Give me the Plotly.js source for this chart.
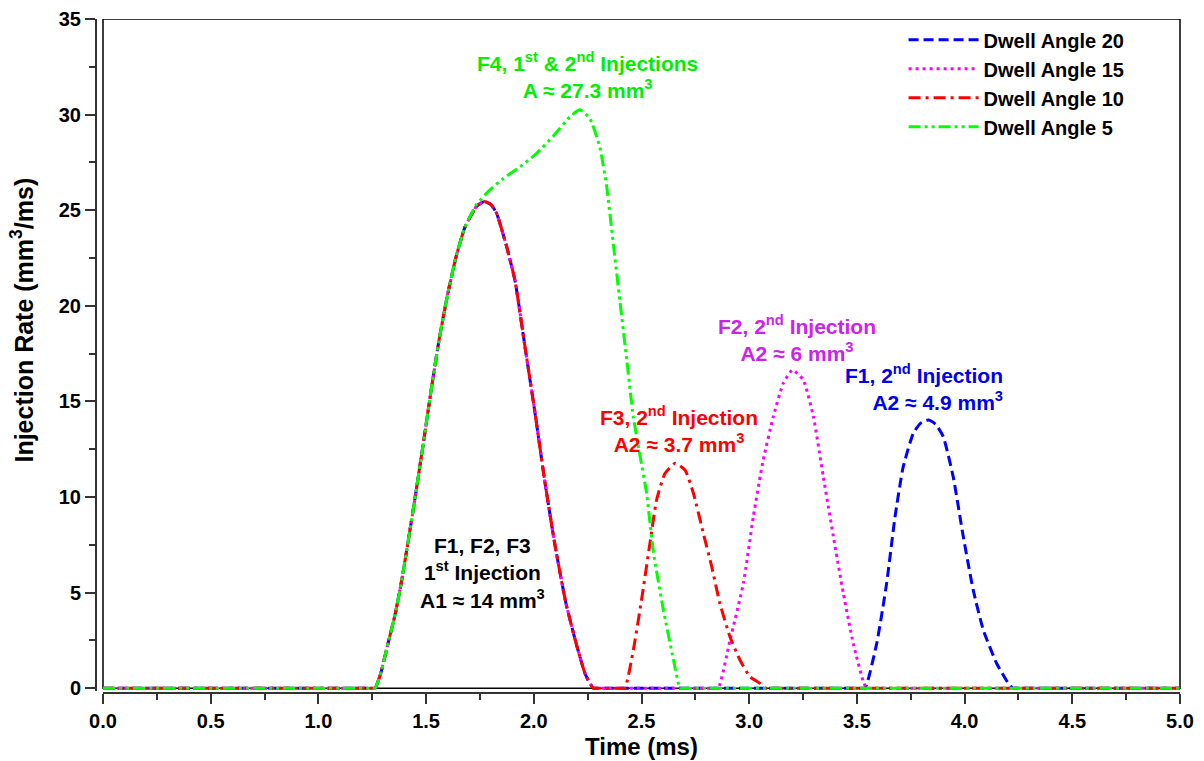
<!DOCTYPE html>
<html>
<head>
<meta charset="utf-8">
<script src="https://cdn.plot.ly/plotly-3.0.1.min.js"></script>
<style>html,body{margin:0;padding:0;background:#fff;}#chart{width:1204px;height:761px;}</style>
</head>
<body>
<div id="chart"></div>
<script>
// ---- Data ----
const seriesNames = ["Dwell Angle 20", "Dwell Angle 15", "Dwell Angle 10", "Dwell Angle 5"];

// Common first injection (F1, F2, F3)
const firstInjTime = [1.245,1.263,1.290,1.320,1.355,1.387,1.441,1.487,1.525,1.560,1.600,1.640,1.680,1.734,1.769,1.800,1.827,1.874,1.913,1.959,2.006,2.050,2.098,2.150,2.200,2.240,2.276,2.295];
const firstInjRate = [0,0,0.8,2.2,3.8,5.65,9.4,12.8,15.7,18.2,20.6,22.6,24.1,25.2,25.45,25.30,24.84,23.09,21.30,17.86,14.37,10.90,7.50,4.40,2.20,0.70,0,0];

// Second injections
const f1SecondTime = [3.520,3.538,3.592,3.638,3.677,3.715,3.762,3.795,3.831,3.866,3.901,3.947,3.994,4.040,4.087,4.149,4.203,4.225,4.245];
const f1SecondRate = [0,0,2.34,5.48,8.96,11.58,13.33,13.85,14.02,13.80,13.15,11.06,7.92,5.13,3.04,1.29,0.25,0,0];

const f2SecondTime = [2.840,2.857,2.911,2.973,3.019,3.065,3.112,3.158,3.201,3.251,3.298,3.344,3.391,3.437,3.483,3.530,3.545,3.562];
const f2SecondRate = [0,0,2.51,5.48,8.96,11.93,14.20,15.94,16.64,16.12,14.20,11.06,7.92,4.96,2.34,0.33,0,0];

const f3SecondTime = [2.405,2.423,2.462,2.500,2.539,2.570,2.609,2.656,2.702,2.741,2.787,2.826,2.864,2.911,2.957,3.004,3.050,3.075,3.095];
const f3SecondRate = [0,0,1.99,4.60,7.57,9.84,11.23,11.76,11.41,10.19,8.10,6.35,4.43,2.68,1.47,0.59,0.25,0,0];

// F4: merged 1st & 2nd injection
const f4Time = [1.245,1.263,1.290,1.320,1.355,1.387,1.441,1.487,1.525,1.560,1.600,1.640,1.680,1.734,1.800,1.859,1.936,2.013,2.091,2.168,2.214,2.261,2.307,2.338,2.369,2.400,2.431,2.462,2.493,2.524,2.555,2.601,2.648,2.679,2.697];
const f4Rate = [0,0,0.8,2.2,3.8,5.65,9.4,12.8,15.7,18.2,20.6,22.6,24.1,25.3,26.10,26.66,27.27,27.97,28.88,29.89,30.25,29.78,28.27,26.26,23.24,20.22,17.21,14.19,12.17,10.16,7.14,4.12,1.51,0,0];

const timeStart = 0, timeEnd = 5;
const xTickVals = [0,0.5,1,1.5,2,2.5,3,3.5,4,4.5,5];
const yTickVals = [0,5,10,15,20,25,30,35];
const yMinorTickVals = [2.5,7.5,12.5,17.5,22.5,27.5,32.5];

// ---- Build traces ----
const FONT = "Liberation Sans, Arial, Helvetica, sans-serif";
function build(parts) {
  const x = [timeStart], y = [0];
  parts.forEach(p => { x.push(...p[0]); y.push(...p[1]); });
  x.push(timeEnd); y.push(0);
  return {x, y};
}
const s20 = build([[firstInjTime, firstInjRate],[f1SecondTime, f1SecondRate]]);
const s15 = build([[firstInjTime, firstInjRate],[f2SecondTime, f2SecondRate]]);
const s10 = build([[firstInjTime, firstInjRate],[f3SecondTime, f3SecondRate]]);
const s5  = build([[f4Time, f4Rate]]);

const styles = [
  {color:"#0000ff", dash:"10px,5px"},
  {color:"#ff00ff", dash:"3px,4px"},
  {color:"#ff0000", dash:"12px,5px,3px,5px"},
  {color:"#00ff00", dash:"12px,4px,3px,4px,3px,4px"}
];
const data = [s20, s15, s10, s5].map((s, i) => ({
  type: "scatter", mode: "lines", name: seriesNames[i],
  x: s.x, y: s.y,
  line: {color: styles[i].color, dash: styles[i].dash, width: 3, shape: "spline", smoothing: 0.5}
}));

const annFont = (c) => ({family: FONT, size: 21, color: c, weight: 700});
const layout = {
  width: 1204, height: 761,
  margin: {l: 96, r: 24, t: 19, b: 68},
  paper_bgcolor: "#fff", plot_bgcolor: "#fff",
  showlegend: true,
  legend: {x: 0.745, y: 0.998, xanchor: "left", yanchor: "top", bgcolor: "rgba(0,0,0,0)",
           borderwidth: 0, itemwidth: 70, font: {family: FONT, size: 20, color: "#000", weight: 700}},
  xaxis: {
    range: [0, 5], domain: [7/1084, 1], anchor: "free", position: 0,
    tickvals: xTickVals, tickformat: ".1f",
    ticks: "outside", ticklen: 10, tickwidth: 2, tickcolor: "#333",
    minor: {dtick: 0.25, ticks: "outside", ticklen: 6, tickwidth: 2, tickcolor: "#333", showgrid: false},
    showline: true, linecolor: "#333", linewidth: 2, showgrid: false, zeroline: false,
    tickfont: {family: FONT, size: 20, color: "#000", weight: 700},
    title: {text: "Time (ms)", font: {family: FONT, size: 24, color: "#000", weight: 700}, standoff: 6}
  },
  yaxis: {
    range: [-0.15, 35], domain: [2/674, 1], anchor: "free", position: 0,
    tickvals: yTickVals,
    ticks: "outside", ticklen: 10, tickwidth: 2, tickcolor: "#333",
    minor: {tickvals: yMinorTickVals, ticks: "outside", ticklen: 6, tickwidth: 2, tickcolor: "#333", showgrid: false},
    showline: true, linecolor: "#333", linewidth: 2, showgrid: false, zeroline: false,
    tickfont: {family: FONT, size: 20, color: "#000", weight: 700},
    title: {text: ""}
  },
  shapes: [{type: "rect", xref: "x domain", yref: "y", x0: 0, x1: 1, y0: 0, y1: 35,
            line: {color: "#000", width: 1.5}, layer: "below"}],
  annotations: [
    {x: -0.068, y: 0.553, xref: "paper", yref: "paper", showarrow: false, textangle: -90,
     xanchor: "center", yanchor: "middle",
     text: "Injection Rate (mm<sup>3</sup>/ms)", font: {family: FONT, size: 25, color: "#000", weight: 700}},
    {x: 2.247, y: 32.03, xref: "x", yref: "y", showarrow: false, align: "center",
     text: "F4, 1<sup>st</sup> & 2<sup>nd</sup> Injections<br>A ≈ 27.3 mm<sup>3</sup>", font: annFont("#00ee00")},
    {x: 1.764, y: 6.02, xref: "x", yref: "y", showarrow: false, align: "center",
     text: "F1, F2, F3<br>1<sup>st</sup> Injection<br>A1 ≈ 14 mm<sup>3</sup>", font: annFont("#000")},
    {x: 2.674, y: 13.55, xref: "x", yref: "y", showarrow: false, align: "center",
     text: "F3, 2<sup>nd</sup> Injection<br>A2 ≈ 3.7 mm<sup>3</sup>", font: annFont("#ff0000")},
    {x: 3.222, y: 18.31, xref: "x", yref: "y", showarrow: false, align: "center",
     text: "F2, 2<sup>nd</sup> Injection<br>A2 ≈ 6 mm<sup>3</sup>", font: annFont("#cc22ee")},
    {x: 4.188, y: 15.75, xref: "x", yref: "y", xanchor: "right", showarrow: false, align: "right",
     text: "F1, 2<sup>nd</sup> Injection<br>A2 ≈ 4.9 mm<sup>3</sup>", font: annFont("#0000ee")}
  ]
};
Plotly.newPlot("chart", data, layout, {displayModeBar: false, staticPlot: true});
</script>
</body>
</html>
